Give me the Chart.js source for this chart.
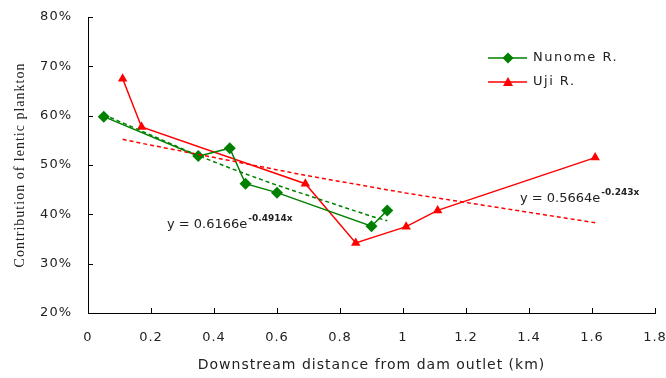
<!DOCTYPE html>
<html>
<head>
<meta charset="utf-8">
<script src="https://cdn.jsdelivr.net/npm/chart.js@4.4.1/dist/chart.umd.min.js"></script>
<style>
  html, body { margin: 0; padding: 0; background: #fff; }
  #wrap { width: 666px; height: 378px; }
</style>
</head>
<body>
<div id="wrap"><canvas id="chart" width="666" height="378"></canvas></div>
<script>
'use strict';

// distances (km) and contribution (%)
const nunomeX = [0.05, 0.35, 0.45, 0.50, 0.60, 0.90, 0.95];
const nunomeY = [59.8, 51.8, 53.4, 46.2, 44.4, 37.6, 40.8];

const ujiX = [0.11, 0.17, 0.69, 0.85, 1.01, 1.11, 1.61];
const ujiY = [67.5, 57.7, 46.2, 34.2, 37.5, 40.8, 51.5];

// dashed exponential trend lines, values read at the same distances
const nunomeTrendY = [60.2, 51.9, 49.4, 48.2, 45.9, 39.6, 38.7];
const ujiTrendY = [55.2, 54.4, 47.9, 46.1, 44.3, 43.3, 38.3];

const xTicks = [0, 0.2, 0.4, 0.6, 0.8, 1, 1.2, 1.4, 1.6, 1.8];
const yTicks = [20, 30, 40, 50, 60, 70, 80];

const GREEN = '#008000';
const RED = '#ff0000';

const toPoints = function (xs, ys) {
    return xs.map(function (x, i) { return { x: x, y: ys[i] }; });
};

const drawDiamond = function (ctx, x, y, r) {
    ctx.beginPath();
    ctx.moveTo(x, y - r);
    ctx.lineTo(x + r, y);
    ctx.lineTo(x, y + r);
    ctx.lineTo(x - r, y);
    ctx.closePath();
    ctx.fill();
};

const drawTriangle = function (ctx, x, y, r) {
    ctx.beginPath();
    ctx.moveTo(x, y - r);
    ctx.lineTo(x + r, y + r * 0.8);
    ctx.lineTo(x - r, y + r * 0.8);
    ctx.closePath();
    ctx.fill();
};

const drawEquation = function (ctx, x, y, base, sup) {
    ctx.fillStyle = '#222';
    ctx.textBaseline = 'middle';
    ctx.textAlign = 'left';
    ctx.letterSpacing = '0px';
    ctx.font = '13px "DejaVu Sans"';
    ctx.fillText(base, x, y);
    const w = ctx.measureText(base).width;
    ctx.font = 'bold 9px "DejaVu Sans"';
    ctx.fillText(sup, x + w + 1, y - 6);
};

const decorPlugin = {
    id: 'decor',
    beforeDraw: function (chart) {
        // the original font is set wide, so open up the spacing a little
        chart.ctx.letterSpacing = '1px';
    },
    afterDraw: function (chart) {
        const ctx = chart.ctx;
        const xs = chart.scales.x;
        const ys = chart.scales.y;
        const area = chart.chartArea;
        ctx.save();

        // inward tick marks
        ctx.strokeStyle = '#000';
        ctx.lineWidth = 1;
        ctx.beginPath();
        xTicks.forEach(function (v) {
            const px = Math.round(xs.getPixelForValue(v)) + 0.5;
            ctx.moveTo(px, area.bottom);
            ctx.lineTo(px, area.bottom - 5);
        });
        yTicks.forEach(function (v) {
            const py = Math.round(ys.getPixelForValue(v)) + 0.5;
            ctx.moveTo(area.left, py);
            ctx.lineTo(area.left + 5, py);
        });
        ctx.stroke();

        // legend
        const items = [
            { label: 'Nunome R.', color: GREEN, marker: 'diamond', y: 58 },
            { label: 'Uji R.', color: RED, marker: 'triangle', y: 82 }
        ];
        items.forEach(function (it) {
            ctx.strokeStyle = it.color;
            ctx.fillStyle = it.color;
            ctx.lineWidth = 1.5;
            ctx.beginPath();
            ctx.moveTo(488, it.y);
            ctx.lineTo(527, it.y);
            ctx.stroke();
            if (it.marker === 'diamond') {
                drawDiamond(ctx, 508, it.y, 5.5);
            } else {
                drawTriangle(ctx, 508, it.y, 5);
            }
            ctx.fillStyle = '#222';
            ctx.letterSpacing = '1.5px';
            ctx.font = '13px "DejaVu Sans"';
            ctx.textAlign = 'left';
            ctx.textBaseline = 'middle';
            ctx.fillText(it.label, 533, it.y);
        });

        // trend equations
        drawEquation(ctx, 167, 225, 'y = 0.6166e', '-0.4914x');
        drawEquation(ctx, 520, 199, 'y = 0.5664e', '-0.243x');

        ctx.restore();
    }
};

const chart = new Chart(document.getElementById('chart').getContext('2d'), {
    type: 'scatter',
    data: {
        datasets: [{
            label: 'Nunome R. trend',
            data: toPoints(nunomeX, nunomeTrendY),
            showLine: true,
            borderColor: GREEN,
            borderWidth: 1.5,
            borderDash: [4, 3],
            pointRadius: 0
        }, {
            label: 'Uji R. trend',
            data: toPoints(ujiX, ujiTrendY),
            showLine: true,
            borderColor: RED,
            borderWidth: 1.5,
            borderDash: [4, 3],
            pointRadius: 0
        }, {
            label: 'Nunome R.',
            data: toPoints(nunomeX, nunomeY),
            showLine: true,
            borderColor: GREEN,
            backgroundColor: GREEN,
            borderWidth: 1.5,
            pointStyle: 'rectRot',
            pointRadius: 6,
            pointBorderWidth: 0
        }, {
            label: 'Uji R.',
            data: toPoints(ujiX, ujiY),
            showLine: true,
            borderColor: RED,
            backgroundColor: RED,
            borderWidth: 1.5,
            pointStyle: 'triangle',
            pointRadius: 5.5,
            pointBorderWidth: 0
        }]
    },
    options: {
        responsive: false,
        animation: false,
        layout: {
            padding: { left: 0, right: 11, top: 17, bottom: 0 }
        },
        plugins: {
            legend: { display: false },
            tooltip: { enabled: false }
        },
        scales: {
            x: {
                type: 'linear',
                min: 0,
                max: 1.8,
                afterFit: function (scale) {
                    scale.height = 65;
                    scale.paddingLeft = 0;
                    scale.paddingRight = 0;
                },
                afterBuildTicks: function (scale) {
                    scale.ticks = xTicks.map(function (v) { return { value: v }; });
                },
                grid: { display: false, drawTicks: false },
                border: { display: true, color: '#000', width: 1 },
                ticks: {
                    padding: 17,
                    color: '#222',
                    font: { family: 'DejaVu Sans', size: 13 },
                    callback: function (v) { return String(Number(v.toFixed(1))); }
                },
                title: {
                    display: true,
                    text: 'Downstream distance from dam outlet (km)',
                    color: '#222',
                    font: { family: 'DejaVu Sans', size: 14 },
                    padding: { top: 0, bottom: 4 }
                }
            },
            y: {
                type: 'linear',
                min: 20,
                max: 80,
                afterFit: function (scale) {
                    scale.width = 88;
                    scale.paddingTop = 0;
                    scale.paddingBottom = 0;
                },
                afterBuildTicks: function (scale) {
                    scale.ticks = yTicks.map(function (v) { return { value: v }; });
                },
                grid: { display: false, drawTicks: false },
                border: { display: true, color: '#000', width: 1 },
                ticks: {
                    padding: 16,
                    color: '#222',
                    font: { family: 'DejaVu Sans', size: 13 },
                    callback: function (v) { return v + '%'; }
                },
                title: {
                    display: true,
                    text: 'Contribution of lentic plankton',
                    color: '#222',
                    font: { family: 'Liberation Serif', size: 14 },
                    padding: { top: 12, bottom: 0 }
                }
            }
        }
    },
    plugins: [decorPlugin]
});
</script>
</body>
</html>
